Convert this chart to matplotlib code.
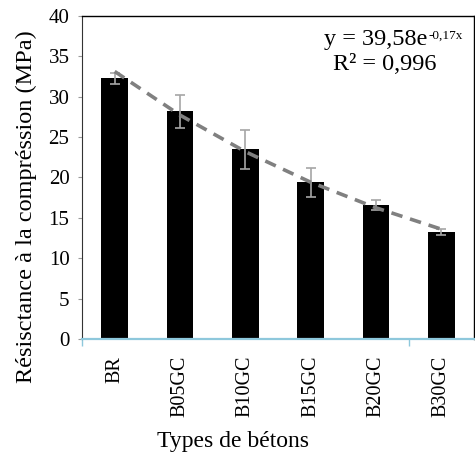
import numpy as np
import matplotlib
matplotlib.use("Agg")
import matplotlib.pyplot as plt

# ------------------ DATA ------------------ #
types = ["BR", "B05GC", "B10GC", "B15GC", "B20GC", "B30GC"]
resistance = [32.3, 28.2, 23.5, 19.4, 16.6, 13.25]
erreur = [0.7, 2.05, 2.4, 1.8, 0.6, 0.4]

plt.rcParams["font.family"] = ["Liberation Serif", "DejaVu Serif"]

# exponential trend (fitted like Excel does: y = a*exp(b*x), x = 1..n)
xs = np.arange(1, len(types) + 1)
b, ln_a = np.polyfit(xs, np.log(resistance), 1)
trend = np.exp(ln_a) * np.exp(b * xs)

# ------------------ FIGURE ------------------ #
fig = plt.figure(figsize=(4.75, 4.53), dpi=100)
ax = fig.add_axes([0.1726, 0.2517, 0.8254, 0.713])

pos = np.arange(len(types))
ax.bar(pos, resistance, width=0.41, color="black", zorder=2)
ax.errorbar(pos, resistance, yerr=erreur, fmt="none", ecolor="#a6a6a6",
            elinewidth=1.2, capsize=3.5, capthick=1.2, zorder=3)
ax.plot(pos, trend, color="#808080", linewidth=2.6,
        linestyle=(0, (3.2, 2.2)), zorder=4)

ax.set_xlim(-0.5, len(types) - 0.5)
ax.set_ylim(0, 40)
ax.set_yticks(range(0, 41, 5))
ax.set_xticks(pos)
ax.set_xticklabels(types, rotation=90, fontsize=14.5)
ax.tick_params(axis="x", length=0, pad=12)
ax.tick_params(axis="y", labelsize=15, length=3, color="#9a9a9a", pad=6)
ax.set_xticks([-0.5, 4.5], minor=True)
ax.tick_params(axis="x", which="minor", length=5, color="#8ec8dc", width=1)

# ------------------ SPINES ------------------ #
ax.spines["left"].set_linestyle((0, (1, 1)))
ax.spines["left"].set_color("#333333")
ax.spines["bottom"].set_color("#8ec8dc")
ax.spines["bottom"].set_linewidth(1.6)
ax.spines["top"].set_linewidth(1.0)
ax.spines["right"].set_linewidth(1.0)

ax.set_xlabel("Types de bétons", fontsize=17)
ax.set_ylabel("Résisctance à la compréssion (MPa)", fontsize=17.5)
ax.xaxis.set_label_coords(0.385, -0.285)
ax.yaxis.set_label_coords(-0.115, 0.41)

# ------------------ EQUATION ------------------ #
ax.text(4.78, 36.4, "y = 39,58e", fontsize=17.5, ha="right", va="baseline")
ax.text(4.80, 37.15, "-0,17x", fontsize=9.5, ha="left", va="baseline")
ax.text(4.14, 33.3, "R² = 0,996", fontsize=17.5, ha="center", va="baseline")

plt.savefig("out.png", dpi=100)
